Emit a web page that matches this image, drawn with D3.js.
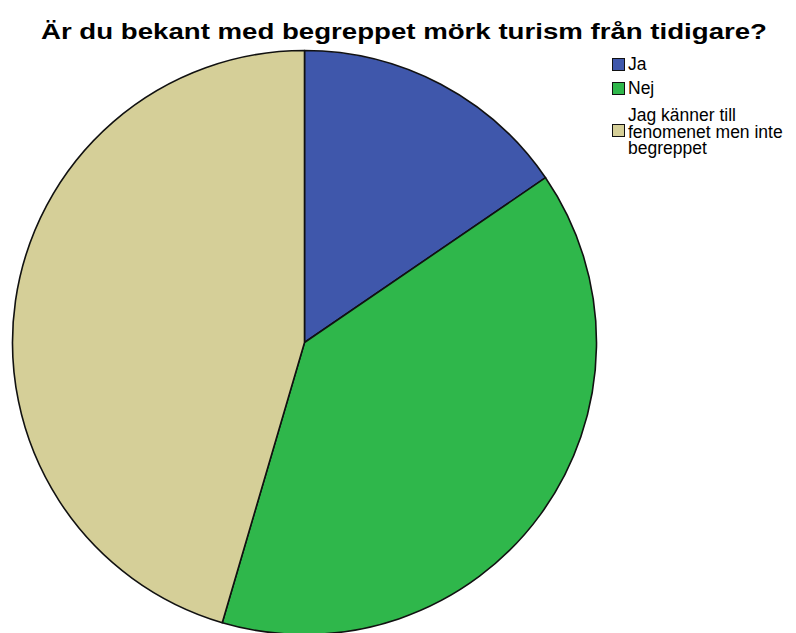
<!DOCTYPE html>
<html>
<head>
<meta charset="utf-8">
<script src="https://cdn.jsdelivr.net/npm/d3@7"></script>
<style>
  html, body { margin: 0; padding: 0; background: #ffffff; }
  svg { display: block; }
</style>
</head>
<body>
<div id="chart"></div>
<script>
// Survey answers: "Are you familiar with the term dark tourism?"
const categories = ["Ja", "Nej", "Jag känner till fenomenet men inte begreppet"];
const legendLines = [["Ja"], ["Nej"], ["Jag känner till", "fenomenet men inte", "begreppet"]];
const counts = [17, 43, 50];
const sliceColors = ["#3f57ab", "#2fb74b", "#d5cf98"];
const titleText = "Är du bekant med begreppet mörk turism från tidigare?";

const width = 796, height = 633;
const cx = 304.5, cy = 342.5, radius = 292;

const svg = d3.select("#chart").append("svg")
  .attr("width", width)
  .attr("height", height);

const color = d3.scaleOrdinal().domain(categories).range(sliceColors);

const pie = d3.pie().sort(null).value(d => d.value);
const arc = d3.arc().innerRadius(0).outerRadius(radius);

const data = categories.map((c, i) => ({ name: c, value: counts[i] }));

svg.append("g")
  .attr("transform", `translate(${cx},${cy})`)
  .selectAll("path")
  .data(pie(data))
  .join("path")
  .attr("d", arc)
  .attr("fill", d => color(d.data.name))
  .attr("stroke", "#111")
  .attr("stroke-width", 1.6)
  .attr("stroke-linejoin", "round");

// Title
svg.append("text")
  .attr("x", 41)
  .attr("y", 39)
  .attr("font-family", "Liberation Sans, Arial, sans-serif")
  .attr("font-weight", "bold")
  .attr("font-size", 22)
  .attr("textLength", 726)
  .attr("lengthAdjust", "spacingAndGlyphs")
  .attr("fill", "#000")
  .text(titleText);

// Legend
const legendX = 612;
const swatchTops = [58, 82, 124];
const firstBaselines = [70, 94, 121];
const lineStep = 16.7;

const legend = svg.append("g")
  .attr("font-family", "Liberation Sans, Arial, sans-serif")
  .attr("font-size", 17.5)
  .attr("fill", "#000");

categories.forEach((c, i) => {
  legend.append("rect")
    .attr("x", legendX + 0.5)
    .attr("y", swatchTops[i] + 0.5)
    .attr("width", 12)
    .attr("height", 12)
    .attr("fill", color(c))
    .attr("stroke", "#111")
    .attr("stroke-width", 1);
  const t = legend.append("text")
    .attr("x", legendX + 16)
    .attr("y", firstBaselines[i]);
  legendLines[i].forEach((line, j) => {
    t.append("tspan")
      .attr("x", legendX + 16)
      .attr("y", firstBaselines[i] + j * lineStep)
      .text(line);
  });
});
</script>
</body>
</html>
